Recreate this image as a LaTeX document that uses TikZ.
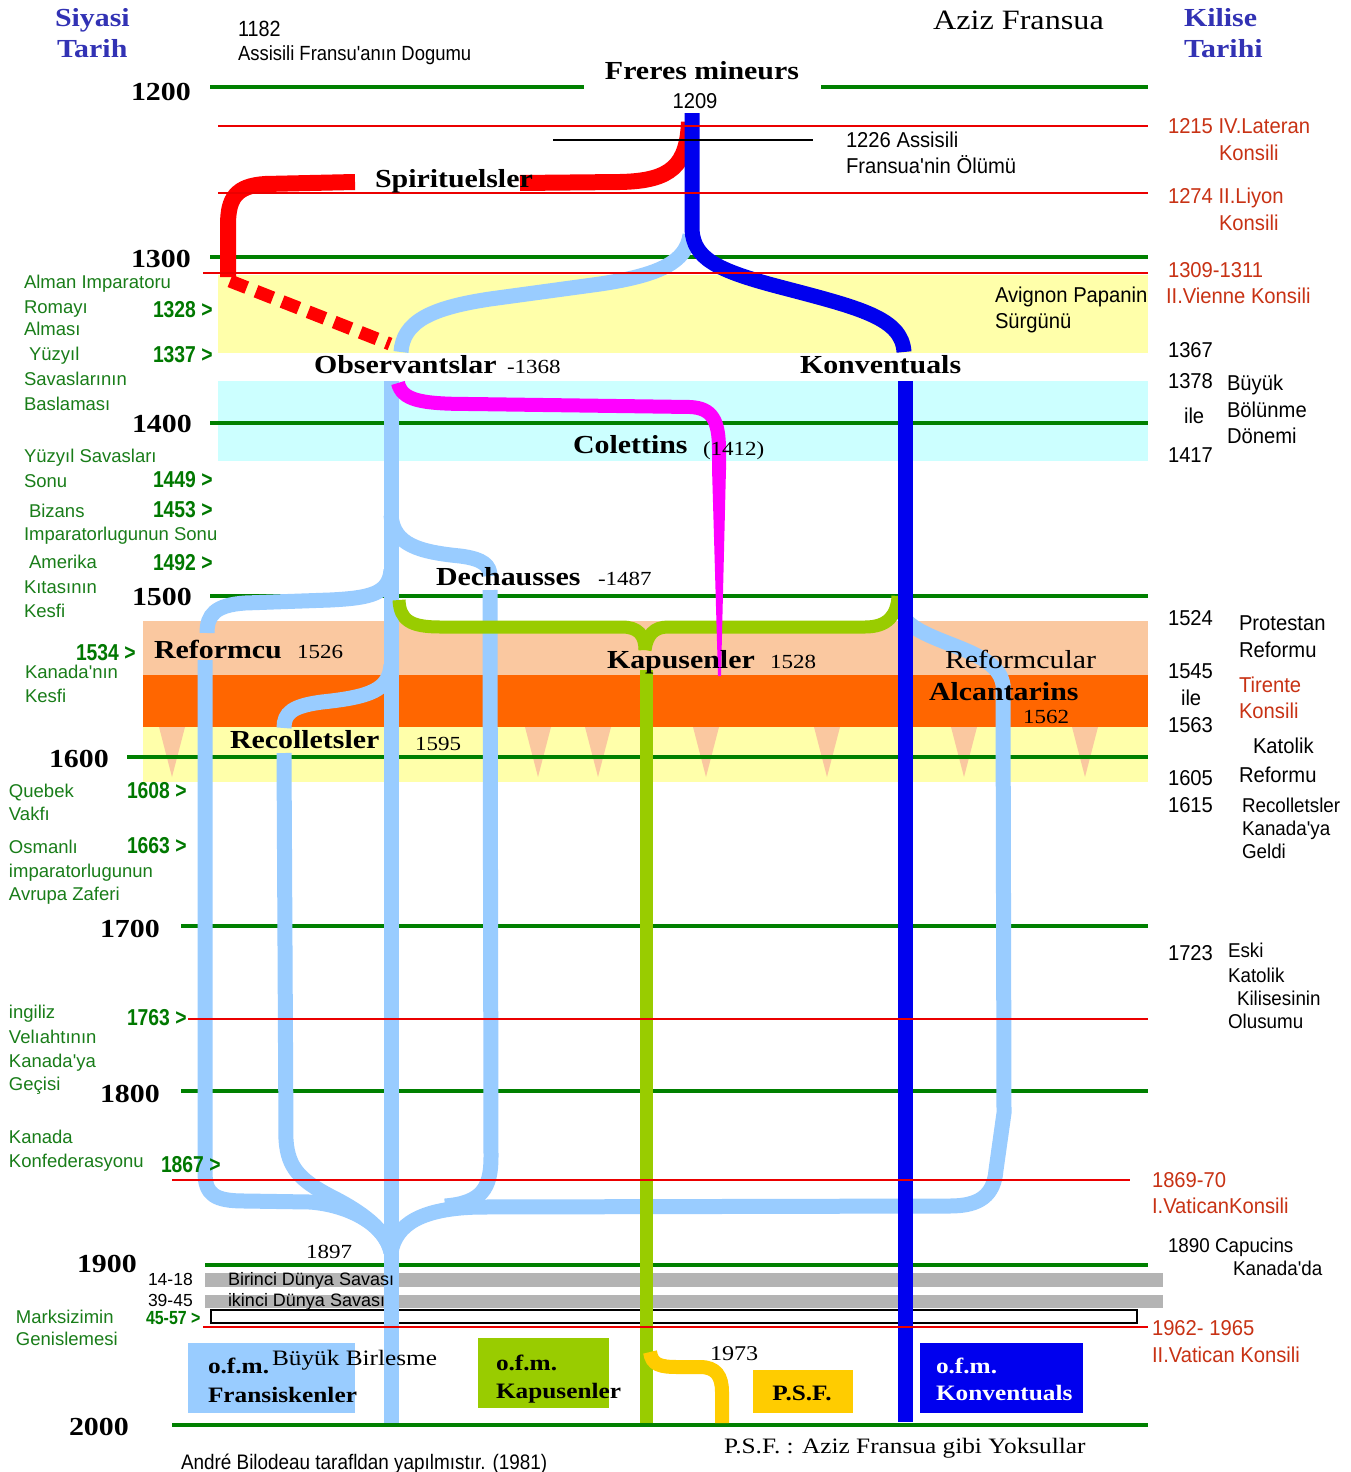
\documentclass[tikz,border=0pt]{standalone}
\usepackage{fontspec}
\setmainfont{Liberation Serif}
\newfontfamily\srf[FakeStretch=1.15]{Liberation Serif}
\newfontfamily\sns{Liberation Sans}
\newfontfamily\snn[FakeStretch=0.94]{Liberation Sans}
\newfontfamily\snt[FakeStretch=0.9]{Liberation Sans}
\newfontfamily\snc[FakeStretch=0.84]{Liberation Sans}
\newcommand\myfs[1]{\fontsize{#1}{#1}\selectfont}
\definecolor{cgreen}{RGB}{0,128,0}
\definecolor{cred}{RGB}{235,0,0}
\definecolor{fred}{RGB}{255,0,0}
\definecolor{fblue}{RGB}{0,0,238}
\definecolor{flblue}{RGB}{153,204,255}
\definecolor{fmag}{RGB}{255,0,255}
\definecolor{fgrn}{RGB}{153,204,0}
\definecolor{fyel}{RGB}{255,204,0}
\definecolor{byel}{RGB}{255,255,170}
\definecolor{bcyan}{RGB}{204,255,255}
\definecolor{bpeach}{RGB}{250,200,160}
\definecolor{borange}{RGB}{255,102,0}
\definecolor{bgrey}{RGB}{180,180,180}
\definecolor{ttblue}{RGB}{50,50,180}
\definecolor{tred}{RGB}{200,50,20}
\definecolor{tgreen}{RGB}{25,125,25}
\definecolor{tgreenb}{RGB}{0,120,0}
\begin{document}
\begin{tikzpicture}[x=1pt,y=-1pt,
  gline/.style={cgreen,line width=3.5pt},
  rline/.style={cred,line width=2.2pt},
  lb/.style={flblue,line width=15pt},
  bf/.style={fblue,line width=15pt},
  gf/.style={fgrn,line width=13pt},
  yf/.style={fyel,line width=14pt},
  mf/.style={fmag,line width=14pt},
  rf/.style={fred,line width=16pt},
  base/.style={inner sep=0pt,outer sep=0pt,anchor=base west},
  lbl/.style={base,font=\srf\bfseries\myfs{26}},
  yr/.style={base,font=\srf\myfs{20}},
  cent/.style={base,font=\srf\bfseries\myfs{26}},
  ttl/.style={base,font=\srf\bfseries\myfs{26},text=ttblue},
  ltxt/.style={base,font=\sns\myfs{18.5},text=tgreen},
  lyr/.style={base,font=\snc\bfseries\myfs{23},text=tgreenb},
  rtxt/.style={base,font=\snn\myfs{21.5}},
  rsm/.style={base,font=\snn\myfs{20}},
  rred/.style={rtxt,text=tred},
  boxt/.style={base,font=\srf\bfseries\myfs{22}},
]
\useasboundingbox (0,0) rectangle (1351,1472);
\fill[white] (0,0) rectangle (1351,1472);
% bands
\fill[byel] (218,275) rectangle (1148,353);
\fill[bcyan] (218,381) rectangle (1148,461);
\fill[bpeach] (143,621) rectangle (1148,675);
\fill[borange] (143,675) rectangle (1148,727);
\fill[byel] (143,727) rectangle (1148,782);
\foreach \t in {172,538,598,706,827,964,1085}
  \fill[bpeach] (\t-13,727) -- (\t+13,727) -- (\t,777) -- cycle;
% century lines
\draw[gline] (210,87) -- (584,87);
\draw[gline] (821,87) -- (1148,87);
\draw[gline] (210,257) -- (1148,257);
\draw[gline] (210,423) -- (1148,423);
\draw[gline] (210,596) -- (1148,596);
\draw[gline] (127,757) -- (1148,757);
\draw[gline] (181,926) -- (1148,926);
\draw[gline] (181,1091) -- (1148,1091);
\draw[gline] (205,1265) -- (1148,1265);
\draw[gline] (172,1425) -- (1148,1425);
% war bars
\fill[bgrey] (205,1273) rectangle (1163,1287);
\fill[bgrey] (205,1295) rectangle (1163,1308);
\draw[line width=2pt,fill=white] (211,1310) rectangle (1137,1323);
% light blue flows
\draw[lb] (690,235) .. controls (686,262) and (660,275) .. (600,284) -- (490,299) .. controls (430,308) and (403,322) .. (401,352);
\draw[lb] (391,381) -- (391,1423);
\draw[lb] (391,515) .. controls (393,545) and (420,552) .. (460,556) .. controls (484,559) and (490,566) .. (490,576);
\draw[lb] (490,590) -- (491,1157) .. controls (491,1188) and (482,1203) .. (445,1206);
\draw[lb] (391,570) .. controls (389,594) and (370,598) .. (330,600) -- (245,603) .. controls (215,605) and (207,615) .. (207,633);
\draw[lb] (205,660) -- (205,1172) .. controls (205,1195) and (215,1201) .. (245,1201) -- (310,1202) .. controls (350,1205) and (385,1225) .. (391,1252);
\draw[lb] (391,665) .. controls (389,690) and (370,697) .. (322,702) .. controls (292,706) and (284,713) .. (284,728);
\draw[lb] (284,753) -- (286,1140) .. controls (288,1168) and (300,1180) .. (330,1196) .. controls (362,1212) and (386,1230) .. (391,1252);
\draw[lb] (904,618) .. controls (925,645) and (998,648) .. (1003,685) -- (1004,1113) -- (996,1170) .. controls (994,1195) and (980,1206) .. (950,1206) -- (480,1207) .. controls (420,1208) and (396,1225) .. (391,1252);
% green flow
\draw[gf] (399,600) .. controls (400,620) and (410,627) .. (440,627) -- (622,627) .. controls (638,627) and (645,635) .. (645,650);
\draw[gf] (645,650) .. controls (647,635) and (654,627) .. (668,627) -- (865,627) .. controls (888,627) and (897,615) .. (898,596);
\draw[gf] (646,670) -- (646,1423);
% yellow flow
\draw[yf] (650,1352) .. controls (652,1365) and (660,1367) .. (678,1367) -- (700,1367) .. controls (716,1367) and (722,1376) .. (722,1392) -- (722,1423);
% magenta
\draw[mf] (398,383) .. controls (402,400) and (420,404) .. (470,404) -- (690,407) .. controls (712,408) and (719,420) .. (719,450) -- (719,470);
\fill[fmag] (712,468) -- (726,468) -- (721,676) -- (718,676) -- cycle;
% red
\draw[rf] (689,122) .. controls (687,165) and (672,181) .. (620,182) -- (520,183);
\draw[rf] (355,182) -- (265,184) .. controls (236,186) and (228,198) .. (228,225) -- (228,277);
\draw[fred,line width=13pt,dash pattern=on 18pt off 10pt] (230,281) -- (390,344);
% blue
\draw[bf] (692,113) -- (692,230) .. controls (694,258) and (715,270) .. (780,287) .. controls (860,308) and (902,318) .. (904,352);
\draw[bf] (905,381) -- (905,1422);
% red lines
\draw[rline] (218,126) -- (1148,126);
\draw[rline] (218,193) -- (1148,193);
\draw[rline] (203,273) -- (1148,273);
\draw[rline] (188,1019) -- (1148,1019);
\draw[rline] (172,1180) -- (1130,1180);
\draw[rline] (203,1327) -- (1148,1327);
\draw[line width=2pt] (553,140) -- (813,140);
% boxes
\fill[flblue] (188,1343) rectangle (355,1413);
\fill[fgrn] (478,1338) rectangle (609,1408);
\fill[fyel] (753,1370) rectangle (853,1413);
\fill[fblue] (920,1343) rectangle (1083,1413);
% titles
\node[ttl] (siy) at (55,27) {Siyasi};
\node[ttl] (tar) at (57,58) {Tarih};
\node[ttl] (kil) at (1184,27) {Kilise};
\node[ttl] (tari) at (1184,58) {Tarihi};
\node[base,font=\srf\myfs{28}] (aziz) at (933,30) {Aziz Fransua};
\node[base,font=\snt\myfs{22}] (b1182) at (238,37) {1182};
\node[base,font=\snt\myfs{20.5}] (bdog) at (238,60) {Assisili Fransu'anın Dogumu};
\node[lbl,anchor=base] (frer) at (702,80) {Freres mineurs};
\node[rtxt,anchor=base] (y1209) at (695,108) {1209};
\node[rtxt] (d1226) at (846,147) {1226 Assisili};
\node[rtxt] (d1226b) at (846,173) {Fransua'nin Ölümü};
% centuries
\node[cent] (c12) at (131,100) {1200};
\node[cent] (c13) at (131,267) {1300};
\node[cent] (c14) at (132,432) {1400};
\node[cent] (c15) at (132,605) {1500};
\node[cent] (c16) at (49,767) {1600};
\node[cent] (c17) at (100,937) {1700};
\node[cent] (c18) at (100,1102) {1800};
\node[cent] (c19) at (77,1272) {1900};
\node[cent] (c20) at (69,1435) {2000};
% flow labels
\node[lbl] (spi) at (375,187) {Spirituelsler};
\node[lbl] (obs) at (314,373) {Observantslar};
\node[yr] (obsy) at (507,373) {-1368};
\node[lbl] (kon) at (800,373) {Konventuals};
\node[lbl] (col) at (573,453) {Colettins};
\node[yr] (coly) at (703,455) {(1412)};
\node[lbl] (dec) at (436,585) {Dechausses};
\node[yr] (decy) at (598,585) {-1487};
\node[lbl] (ref) at (154,658) {Reformcu};
\node[yr] (refy) at (297,658) {1526};
\node[lbl] (kap) at (607,668) {Kapusenler};
\node[yr] (kapy) at (770,668) {1528};
\node[base,font=\srf\myfs{26}] (refc) at (945,668) {Reformcular};
\node[lbl] (alc) at (929,700) {Alcantarins};
\node[yr] (alcy) at (1023,723) {1562};
\node[lbl] (rec) at (230,748) {Recolletsler};
\node[yr] (recy) at (415,750) {1595};
\node[yr] (y1897) at (306,1258) {1897};
\node[yr,font=\srf\myfs{21}] (y1973) at (710,1360) {1973};
% right column
\node[rred] (r1) at (1168,133) {1215 IV.Lateran};
\node[rred] (r2) at (1219,160) {Konsili};
\node[rred] (r3) at (1168,203) {1274 II.Liyon};
\node[rred] (r4) at (1219,230) {Konsili};
\node[rred] (r5) at (1168,277) {1309-1311};
\node[rred] (r6) at (1166,303) {II.Vienne Konsili};
\node[rtxt] (r7) at (995,302) {Avignon Papanin};
\node[rtxt] (r8) at (995,328) {Sürgünü};
\node[rtxt] (r9) at (1168,357) {1367};
\node[rtxt] (r10) at (1168,388) {1378};
\node[rtxt] (r11) at (1227,390) {Büyük};
\node[rtxt] (r12) at (1184,423) {ile};
\node[rtxt] (r13) at (1227,417) {Bölünme};
\node[rtxt] (r14) at (1227,443) {Dönemi};
\node[rtxt] (r15) at (1168,462) {1417};
\node[rtxt] (r16) at (1168,625) {1524};
\node[rtxt] (r17) at (1239,630) {Protestan};
\node[rtxt] (r18) at (1239,657) {Reformu};
\node[rtxt] (r19) at (1168,678) {1545};
\node[rred] (r20) at (1239,692) {Tirente};
\node[rtxt] (r21) at (1181,705) {ile};
\node[rred] (r22) at (1239,718) {Konsili};
\node[rtxt] (r23) at (1168,732) {1563};
\node[rtxt] (r24) at (1253,753) {Katolik};
\node[rtxt] (r25) at (1168,785) {1605};
\node[rtxt] (r26) at (1239,782) {Reformu};
\node[rtxt] (r27) at (1168,812) {1615};
\node[rsm] (r28) at (1242,812) {Recolletsler};
\node[rsm] (r29) at (1242,835) {Kanada'ya};
\node[rsm] (r30) at (1242,858) {Geldi};
\node[rtxt] (r31) at (1168,960) {1723};
\node[rsm] (r32) at (1228,957) {Eski};
\node[rsm] (r33) at (1228,982) {Katolik};
\node[rsm] (r34) at (1237,1005) {Kilisesinin};
\node[rsm] (r35) at (1228,1028) {Olusumu};
\node[rred] (r36) at (1152,1187) {1869-70};
\node[rred] (r37) at (1152,1213) {I.VaticanKonsili};
\node[rsm] (r38) at (1168,1252) {1890 Capucins};
\node[rsm] (r39) at (1233,1275) {Kanada'da};
\node[rred] (r40) at (1152,1335) {1962- 1965};
\node[rred] (r41) at (1152,1362) {II.Vatican Konsili};
% left column
\node[ltxt] (l1) at (24,288) {Alman Imparatoru};
\node[ltxt] (l2) at (24,313) {Romayı};
\node[lyr] (l3) at (153,317) {1328 >};
\node[ltxt] (l4) at (24,335) {Alması};
\node[ltxt] (l5) at (29,360) {Yüzyıl};
\node[lyr] (l6) at (153,362) {1337 >};
\node[ltxt] (l7) at (24,385) {Savaslarının};
\node[ltxt] (l8) at (24,410) {Baslaması};
\node[ltxt] (l9) at (24,462) {Yüzyıl Savasları};
\node[ltxt] (l10) at (24,487) {Sonu};
\node[lyr] (l11) at (153,487) {1449 >};
\node[ltxt] (l12) at (29,517) {Bizans};
\node[lyr] (l13) at (153,517) {1453 >};
\node[ltxt] (l14) at (24,540) {Imparatorlugunun Sonu};
\node[ltxt] (l15) at (29,568) {Amerika};
\node[lyr] (l16) at (153,570) {1492 >};
\node[ltxt] (l17) at (24,593) {Kıtasının};
\node[ltxt] (l18) at (24,617) {Kesfi};
\node[lyr] (l19) at (76,660) {1534 >};
\node[ltxt] (l20) at (25,678) {Kanada'nın};
\node[ltxt] (l21) at (25,702) {Kesfi};
\node[ltxt] (l22) at (9,797) {Quebek};
\node[lyr] (l23) at (127,798) {1608 >};
\node[ltxt] (l24) at (9,820) {Vakfı};
\node[ltxt] (l25) at (9,853) {Osmanlı};
\node[lyr] (l26) at (127,853) {1663 >};
\node[ltxt] (l27) at (9,877) {imparatorlugunun};
\node[ltxt] (l28) at (9,900) {Avrupa Zaferi};
\node[ltxt] (l29) at (9,1018) {ingiliz};
\node[lyr] (l30) at (127,1025) {1763 >};
\node[ltxt] (l31) at (9,1043) {Velıahtının};
\node[ltxt] (l32) at (9,1067) {Kanada'ya};
\node[ltxt] (l33) at (9,1090) {Geçisi};
\node[ltxt] (l34) at (9,1143) {Kanada};
\node[ltxt] (l35) at (9,1167) {Konfederasyonu};
\node[lyr] (l36) at (161,1172) {1867 >};
\node[ltxt] (l37) at (16,1323) {Marksizimin};
\node[ltxt] (l38) at (16,1345) {Genislemesi};
\node[lyr,font=\snc\bfseries\myfs{19}] (l39) at (146,1324) {45-57 >};
\node[base,font=\sns\myfs{17.5}] (w1) at (148,1285) {14-18};
\node[base,font=\sns\myfs{17.5}] (w2) at (148,1306) {39-45};
\node[base,font=\sns\myfs{18}] (w3) at (228,1285) {Birinci Dünya Savası};
\node[base,font=\sns\myfs{18}] (w4) at (228,1306) {ikinci Dünya Savası};
% box texts
\node[boxt] (b1a) at (208,1373) {o.f.m.};
\node[boxt] (b1b) at (208,1402) {Fransiskenler};
\node[base,font=\srf\myfs{22}] (bb) at (272,1365) {Büyük Birlesme};
\node[boxt] (b2a) at (496,1370) {o.f.m.};
\node[boxt] (b2b) at (496,1398) {Kapusenler};
\node[boxt,anchor=base] (b3) at (802,1400) {P.S.F.};
\node[boxt,text=white] (b4a) at (936,1373) {o.f.m.};
\node[boxt,text=white] (b4b) at (936,1400) {Konventuals};
\node[base,font=\srf\myfs{22}] (psf) at (724,1453) {P.S.F. : Aziz Fransua gibi Yoksullar};
\node[base,font=\snt\myfs{21}] (andre) at (181,1469) {André Bilodeau tarafldan yapılmıstır. (1981)};
\end{tikzpicture}
\end{document}
